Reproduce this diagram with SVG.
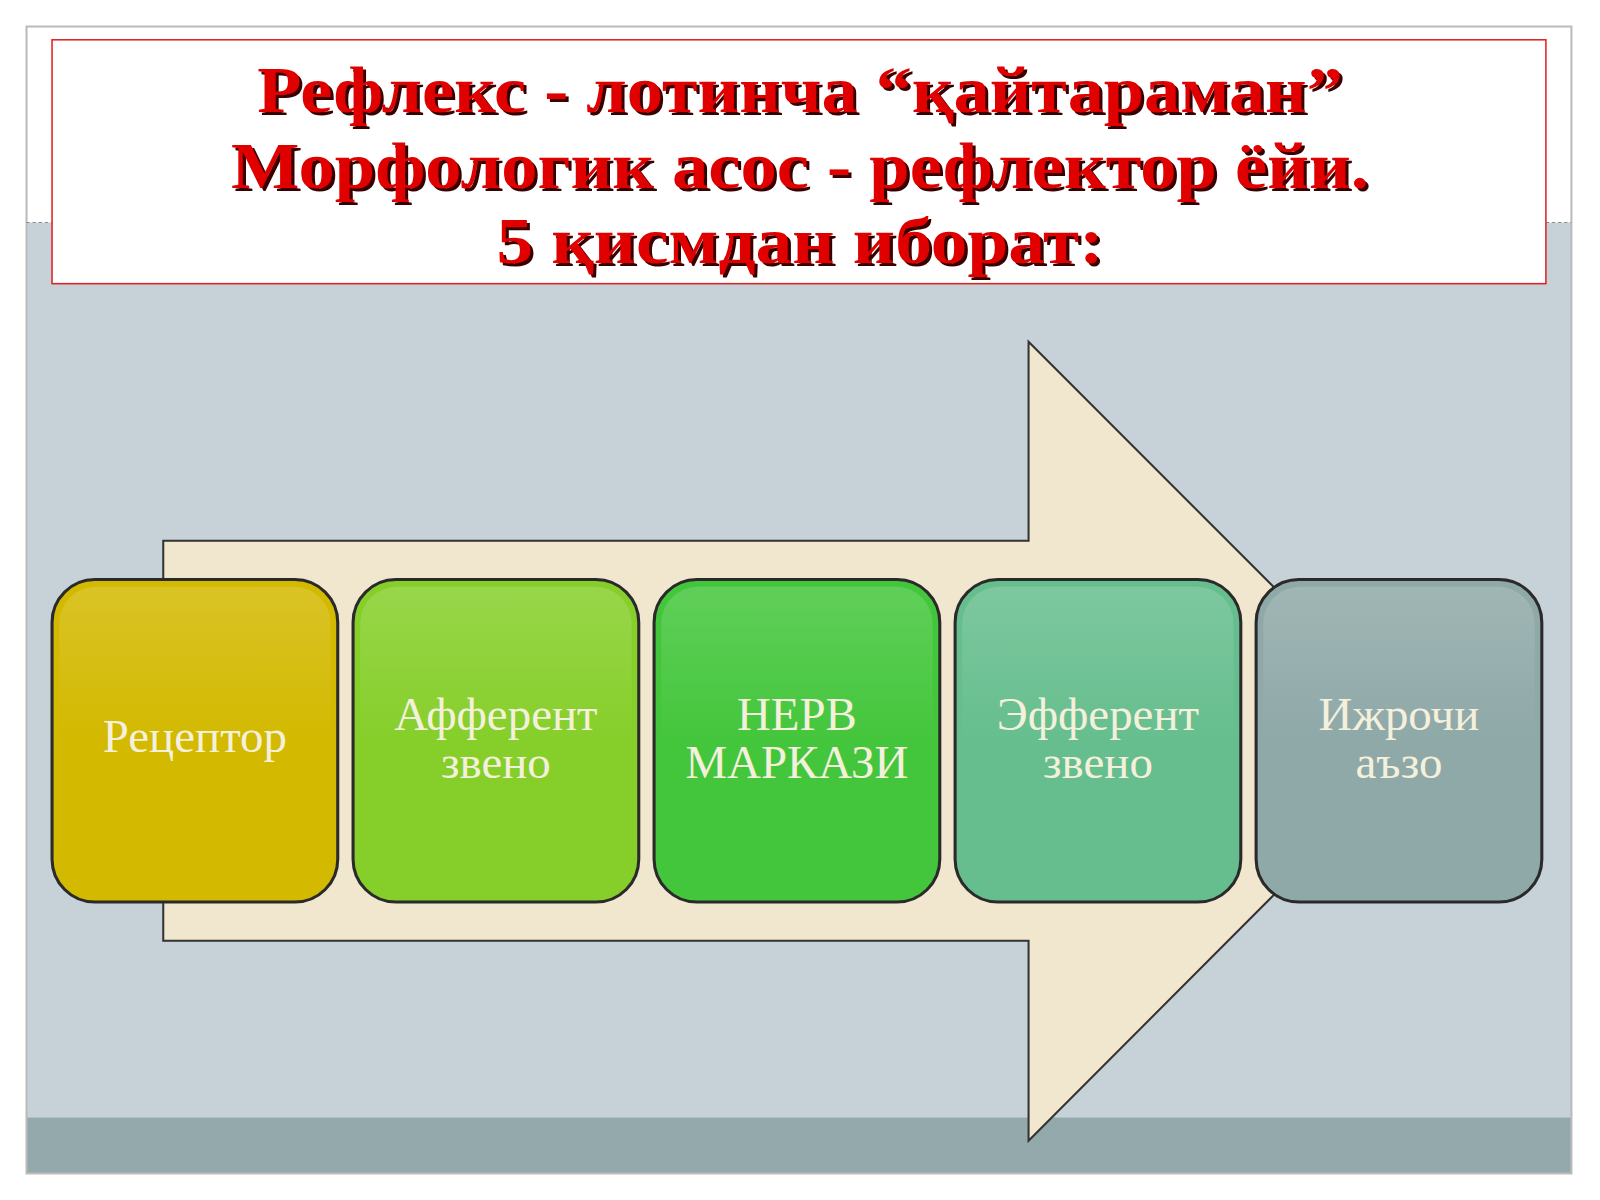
<svg xmlns="http://www.w3.org/2000/svg" width="1600" height="1200" viewBox="0 0 1600 1200">
<defs>
<style>
.t{font-family:"Liberation Serif",serif;font-weight:bold;font-size:64px;fill:#e00000;text-anchor:middle}
.s{font-family:"Liberation Serif",serif;font-weight:bold;font-size:64px;fill:#3a0000;text-anchor:middle}
.b{stroke:#2a2a2a;stroke-width:3}
.l{font-family:"Liberation Serif",serif;font-size:46px;fill:#f4f0dc;text-anchor:middle}
</style>
<linearGradient id="g" x1="0" y1="0" x2="0" y2="1"><stop offset="0" stop-color="#fff" stop-opacity="0.15"/><stop offset="0.5" stop-color="#fff" stop-opacity="0"/></linearGradient>
</defs>
<rect width="1600" height="1200" fill="#fff"/>
<g transform="scale(1.0204)">
<rect x="26" y="218" width="1514" height="877" fill="#c7d2d8"/>
<rect x="26" y="1095" width="1514" height="55" fill="#93a9ab"/>
<rect x="26" y="26" width="1514" height="1124" fill="none" stroke="#bbb" stroke-width="2"/>
<line x1="26" y1="218" x2="51" y2="218" stroke="#888" stroke-dasharray="3,3"/>
<line x1="1515" y1="218" x2="1540" y2="218" stroke="#888" stroke-dasharray="3,3"/>
<g id="title">
<rect x="51" y="39" width="1464" height="239" fill="#fff" stroke="#e02020" stroke-width="1.5"/>
<text class="s" x="787" y="113" textLength="1064" lengthAdjust="spacingAndGlyphs">Рефлекс - лотинча “қайтараман”</text>
<text class="t" x="784" y="110" textLength="1064" lengthAdjust="spacingAndGlyphs">Рефлекс - лотинча “қайтараман”</text>
<text class="s" x="787" y="187" textLength="1115" lengthAdjust="spacingAndGlyphs">Морфологик асос - рефлектор ёйи.</text>
<text class="t" x="784" y="184" textLength="1115" lengthAdjust="spacingAndGlyphs">Морфологик асос - рефлектор ёйи.</text>
<text class="s" x="787" y="261" textLength="595" lengthAdjust="spacingAndGlyphs">5 қисмдан иборат:</text>
<text class="t" x="784" y="258" textLength="595" lengthAdjust="spacingAndGlyphs">5 қисмдан иборат:</text>
</g>
<g id="connectors">
<polygon points="160,530 1008,530 1008,335 1399,726 1008,1118 1008,922 160,922" fill="#f1e7cf" stroke="#333" stroke-width="2"/>
</g>
<g id="n1"><rect class="b" x="51" y="568" width="280" height="316" rx="42" fill="#d3b900"/><rect x="58" y="575" width="266" height="302" rx="36" fill="url(#g)"/><text class="l" x="191" y="737">Рецептор</text></g>
<g id="n2"><rect class="b" x="346" y="568" width="280" height="316" rx="42" fill="#86cf2a"/><rect x="353" y="575" width="266" height="302" rx="36" fill="url(#g)"/><text class="l" x="486" y="715">Афферент</text><text class="l" x="486" y="762">звено</text></g>
<g id="n3"><rect class="b" x="641" y="568" width="280" height="316" rx="42" fill="#44c63c"/><rect x="648" y="575" width="266" height="302" rx="36" fill="url(#g)"/><text class="l" x="781" y="715">НЕРВ</text><text class="l" x="781" y="762">МАРКАЗИ</text></g>
<g id="n4"><rect class="b" x="936" y="568" width="280" height="316" rx="42" fill="#66be8e"/><rect x="943" y="575" width="266" height="302" rx="36" fill="url(#g)"/><text class="l" x="1076" y="715">Эфферент</text><text class="l" x="1076" y="762">звено</text></g>
<g id="n5"><rect class="b" x="1231" y="568" width="280" height="316" rx="42" fill="#8fa9a8"/><rect x="1238" y="575" width="266" height="302" rx="36" fill="url(#g)"/><text class="l" x="1371" y="715">Ижрочи</text><text class="l" x="1371" y="762">аъзо</text></g>
</g>
</svg>
